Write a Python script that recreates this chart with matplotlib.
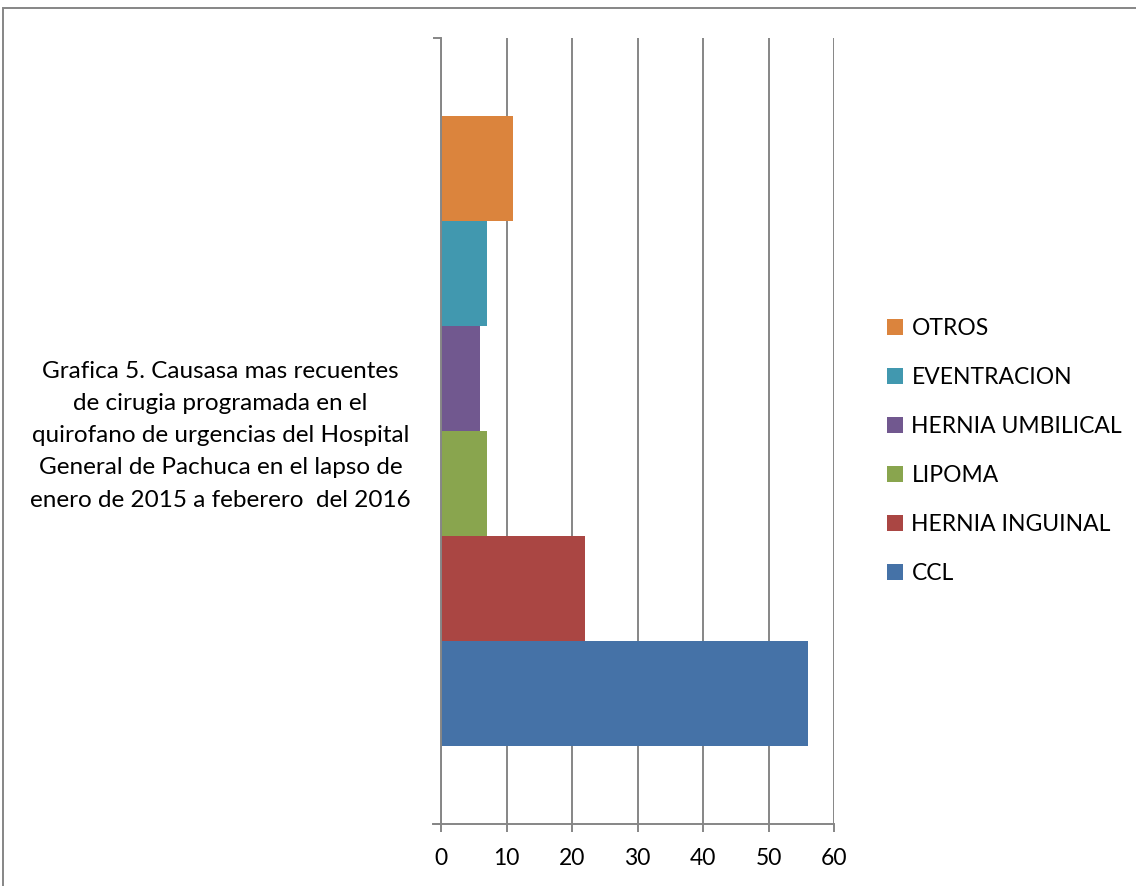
import matplotlib

matplotlib.use("Agg")
import matplotlib.pyplot as plt
from matplotlib.patches import Rectangle

# causas de cirugia programada (de abajo hacia arriba)
causas = ["CCL", "HERNIA INGUINAL", "LIPOMA", "HERNIA UMBILICAL", "EVENTRACION", "OTROS"]
casos = [56, 22, 7, 6, 7, 11]
colores = ["#4572A7", "#AA4643", "#89A54E", "#71588F", "#4198AF", "#DB843D"]
ticks_x = [0, 10, 20, 30, 40, 50, 60]

titulo = ("Grafica 5. Causasa mas recuentes\n"
          "de cirugia programada en el\n"
          "quirofano de urgencias del Hospital\n"
          "General de Pachuca en el lapso de\n"
          "enero de 2015 a feberero  del 2016")

plt.rcParams["font.family"] = ["Lato", "DejaVu Sans"]
gris = "#868686"

fig = plt.figure(figsize=(11.36, 8.86), dpi=100)
ax = fig.add_axes([0.3882, 0.0700, 0.3460, 0.8871])

for i, (c, v, col) in enumerate(zip(causas, casos, colores)):
    ax.barh(i, v, height=1.0, color=col, label=c, zorder=3)

ax.set_xlim(0, 60)
ax.set_ylim(-1.243, 6.243)
ax.set_xticks(ticks_x)
ax.set_xticklabels([str(t) for t in ticks_x], fontsize=16.5, color="black")
ax.set_yticks([-1.243, 6.243])
ax.set_yticklabels([])
ax.tick_params(axis="x", direction="out", length=6, width=1.4, color=gris, pad=11)
ax.tick_params(axis="y", direction="out", length=6, width=1.4, color=gris)
ax.grid(axis="x", color=gris, linewidth=1.4, zorder=0)
ax.set_axisbelow(True)
for s in ["top", "right"]:
    ax.spines[s].set_visible(False)
for s in ["left", "bottom"]:
    ax.spines[s].set_color(gris)
    ax.spines[s].set_linewidth(1.4)
    ax.spines[s].set_zorder(4)

# el eje inferior sobresale un poco hacia la izquierda
ax.plot([-1.2, 0], [-1.243, -1.243], color=gris, linewidth=1.4,
        clip_on=False, zorder=4)

handles, labels = ax.get_legend_handles_labels()
fig.legend(handles[::-1], labels[::-1], loc="center left",
           bbox_to_anchor=(0.763, 0.491), frameon=False, fontsize=16.5,
           handlelength=0.7, handleheight=0.7, handletextpad=0.35,
           labelspacing=1.22)

fig.text(0.194, 0.508, titulo, ha="center", va="center", fontsize=17.5,
         linespacing=1.65)

# marco del area del grafico
fig.patches.append(Rectangle((3 / 1136, -0.05), 1.2, 1 - 8 / 886 + 0.05,
                             transform=fig.transFigure, fill=False,
                             edgecolor=gris, linewidth=1.4))

fig.savefig("out.png", dpi=100)
